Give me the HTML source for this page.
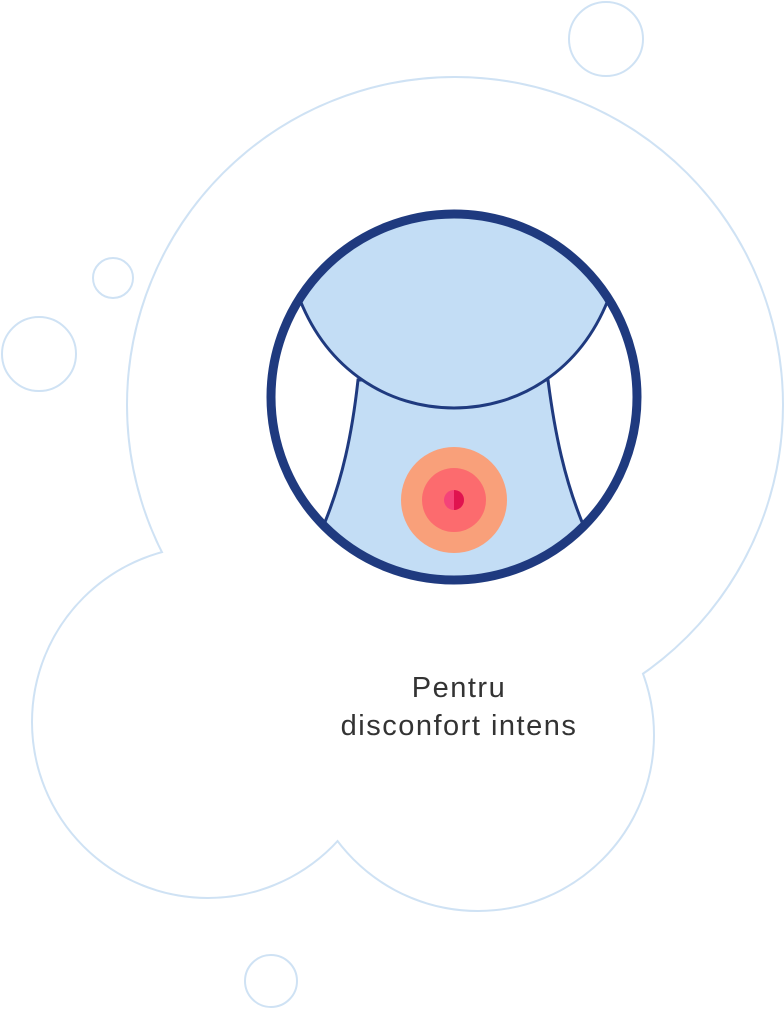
<!DOCTYPE html>
<html><head><style>html,body{margin:0;padding:0;background:#fff;width:784px;height:1010px;overflow:hidden}</style></head>
<body>
<svg width="784" height="1010" viewBox="0 0 784 1010" xmlns="http://www.w3.org/2000/svg">
<defs><clipPath id="c"><circle cx="454" cy="397" r="183"/></clipPath></defs>
<g fill="none" stroke="#cfe2f4" stroke-width="2">
<circle cx="606" cy="39" r="37"/>
<circle cx="113" cy="278" r="20"/>
<circle cx="39" cy="354" r="37"/>
<circle cx="271" cy="981" r="26"/>
</g>
<g fill="#fff" stroke="#cfe2f4" stroke-width="4">
<circle cx="455" cy="405" r="327"/>
<circle cx="208" cy="722" r="175"/>
<circle cx="478" cy="735" r="175"/>
</g>
<g fill="#fff">
<circle cx="455" cy="405" r="327"/>
<circle cx="208" cy="722" r="175"/>
<circle cx="478" cy="735" r="175"/>
</g>
<g clip-path="url(#c)">
<circle cx="454" cy="397" r="183" fill="#fff"/>
<path d="M358,380 C352,435 342,480 325,522 L300,600 L610,600 L582,522 C565,480 555,435 548,380 Z" fill="#c3ddf5" stroke="#1f3a7f" stroke-width="3"/>
<path d="M250,200 L660,200 L660,280 L608,300 C580,370 520,408 454,408 C388,408 328,370 300,300 L250,280 Z" fill="#c3ddf5" stroke="#1f3a7f" stroke-width="3"/>
<circle cx="454" cy="500" r="53" fill="#f9a07a"/>
<circle cx="454" cy="500" r="32" fill="#fc6b6e"/>
<circle cx="454" cy="500" r="10" fill="#f54379"/>
<path d="M454,490 A10,10 0 0 1 454,510 Z" fill="#e0134f"/>
</g>
<circle cx="454" cy="397" r="183" fill="none" stroke="#1f3a7f" stroke-width="9"/>
<g font-family="'Liberation Sans',sans-serif" font-size="29" letter-spacing="1.5" fill="#333" text-anchor="middle">
<text x="459" y="697">Pentru</text>
<text x="459" y="735">disconfort intens</text>
</g>
</svg>
</body></html>
